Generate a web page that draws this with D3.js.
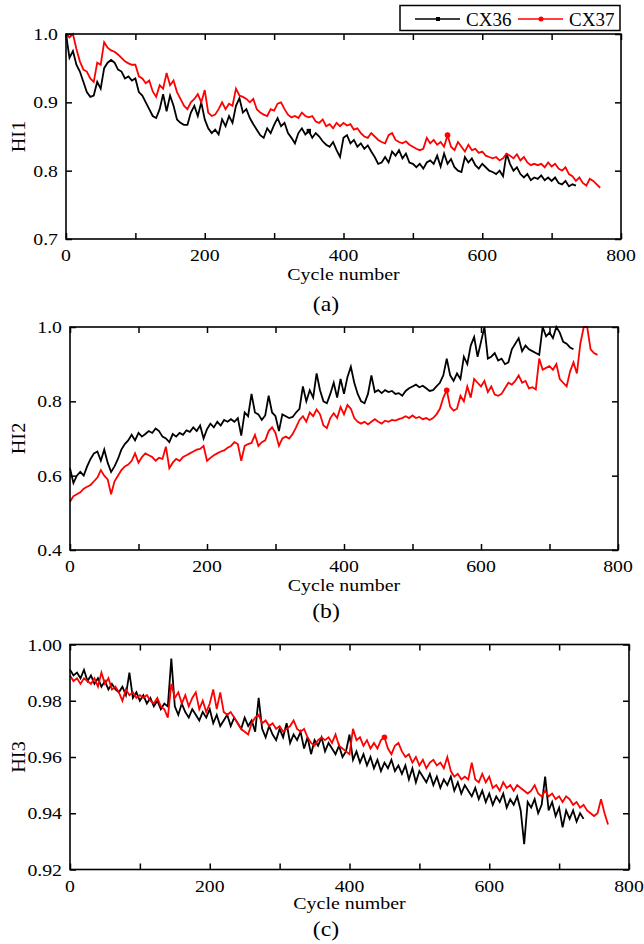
<!DOCTYPE html>
<html>
<head>
<meta charset="utf-8">
<script src="https://cdn.jsdelivr.net/npm/d3@7/dist/d3.min.js"></script>
<style>
  html, body { margin: 0; padding: 0; background: #fff; }
  svg { display: block; }
  text { font-family: "Liberation Serif", "Times New Roman", serif; fill: #000; }
</style>
</head>
<body>
<svg id="chart" width="644" height="944"></svg>
<script>
// ---------------- DATA ----------------
const cycleStep = 5;            // values below are sampled every 5 cycles starting at cycle 0
const seriesNames = ["CX36", "CX37"];
const seriesColors = ["#000000", "#ff0000"];
const xTickLabels = [0, 200, 400, 600, 800];

// HI1
const hi1_CX36 = [1.0,0.965,0.975,0.955,0.945,0.93,0.915,0.908,0.91,0.93,0.92,0.95,0.958,0.962,0.958,0.948,0.945,0.935,0.938,0.932,
0.935,0.915,0.91,0.9,0.89,0.88,0.877,0.89,0.912,0.887,0.91,0.895,0.875,0.87,0.867,0.867,0.885,0.895,0.88,0.9,
0.875,0.862,0.855,0.86,0.853,0.875,0.865,0.88,0.87,0.895,0.906,0.885,0.89,0.877,0.868,0.86,0.852,0.848,0.862,0.855,
0.867,0.877,0.865,0.87,0.855,0.848,0.84,0.855,0.862,0.853,0.858,0.848,0.855,0.85,0.843,0.838,0.835,0.842,0.83,0.82,
0.848,0.852,0.84,0.845,0.835,0.84,0.832,0.837,0.828,0.82,0.81,0.812,0.82,0.812,0.828,0.822,0.83,0.818,0.825,0.812,
0.81,0.805,0.81,0.803,0.812,0.815,0.81,0.822,0.806,0.825,0.81,0.817,0.805,0.8,0.798,0.82,0.812,0.818,0.808,0.803,
0.81,0.805,0.8,0.798,0.795,0.8,0.792,0.825,0.81,0.8,0.805,0.795,0.79,0.795,0.786,0.79,0.788,0.793,0.786,0.79,
0.785,0.79,0.782,0.78,0.785,0.777,0.78,0.778];
const hi1_CX37 = [1.0,0.995,1.0,0.978,0.96,0.948,0.945,0.935,0.93,0.958,0.955,0.988,0.98,0.976,0.974,0.97,0.965,0.96,0.957,0.955,
0.955,0.938,0.935,0.928,0.932,0.916,0.908,0.925,0.92,0.943,0.925,0.932,0.915,0.905,0.895,0.89,0.9,0.905,0.912,0.9,
0.918,0.885,0.88,0.882,0.89,0.9,0.89,0.898,0.895,0.92,0.91,0.908,0.905,0.9,0.905,0.89,0.885,0.882,0.88,0.89,
0.888,0.898,0.9,0.89,0.882,0.878,0.88,0.877,0.885,0.88,0.878,0.88,0.872,0.87,0.875,0.865,0.868,0.862,0.87,0.865,
0.87,0.866,0.868,0.86,0.862,0.855,0.85,0.848,0.855,0.85,0.845,0.842,0.84,0.852,0.855,0.845,0.842,0.84,0.843,0.838,
0.835,0.832,0.83,0.832,0.848,0.84,0.845,0.838,0.842,0.835,0.852,0.835,0.83,0.842,0.835,0.828,0.838,0.83,0.832,0.826,
0.828,0.822,0.82,0.818,0.82,0.815,0.818,0.825,0.822,0.818,0.824,0.815,0.82,0.812,0.808,0.81,0.808,0.81,0.805,0.812,
0.806,0.81,0.803,0.8,0.805,0.795,0.792,0.785,0.79,0.782,0.778,0.788,0.785,0.78,0.775];

// HI2
const hi2_CX36 = [0.62,0.58,0.6,0.61,0.6,0.625,0.645,0.66,0.665,0.64,0.67,0.635,0.61,0.625,0.645,0.67,0.685,0.695,0.71,0.695,
0.715,0.705,0.712,0.72,0.715,0.727,0.72,0.705,0.7,0.69,0.712,0.705,0.715,0.71,0.722,0.718,0.73,0.72,0.735,0.7,
0.725,0.74,0.73,0.745,0.735,0.75,0.745,0.752,0.745,0.755,0.708,0.77,0.76,0.82,0.77,0.765,0.75,0.762,0.815,0.77,
0.76,0.72,0.765,0.76,0.755,0.758,0.77,0.78,0.84,0.8,0.83,0.81,0.875,0.83,0.8,0.795,0.82,0.85,0.81,0.86,
0.82,0.865,0.893,0.85,0.82,0.8,0.795,0.82,0.87,0.825,0.83,0.822,0.83,0.825,0.828,0.82,0.822,0.815,0.828,0.835,
0.84,0.845,0.838,0.842,0.835,0.828,0.83,0.84,0.85,0.87,0.915,0.87,0.855,0.875,0.86,0.92,0.9,0.95,0.973,0.92,
0.96,1.0,0.915,0.92,0.93,0.91,0.915,0.9,0.905,0.94,0.955,0.97,0.935,0.95,0.94,0.935,0.93,0.925,1.0,0.975,
0.985,0.97,1.0,0.985,0.96,0.955,0.945,0.94];
const hi2_CX37 = [0.53,0.545,0.55,0.555,0.565,0.57,0.575,0.585,0.595,0.615,0.6,0.59,0.55,0.585,0.6,0.615,0.625,0.63,0.64,0.66,
0.635,0.65,0.66,0.655,0.65,0.64,0.648,0.645,0.678,0.62,0.635,0.645,0.64,0.65,0.655,0.66,0.665,0.67,0.672,0.68,
0.64,0.648,0.655,0.66,0.665,0.668,0.675,0.68,0.69,0.685,0.64,0.68,0.685,0.688,0.71,0.68,0.69,0.695,0.72,0.73,
0.715,0.68,0.7,0.705,0.7,0.712,0.73,0.75,0.76,0.745,0.77,0.76,0.778,0.765,0.735,0.728,0.755,0.768,0.755,0.785,
0.765,0.79,0.78,0.755,0.745,0.74,0.745,0.738,0.745,0.752,0.745,0.74,0.748,0.745,0.75,0.748,0.752,0.755,0.76,0.755,
0.762,0.755,0.758,0.752,0.755,0.75,0.755,0.765,0.78,0.81,0.83,0.785,0.775,0.78,0.815,0.8,0.84,0.81,0.86,0.85,
0.84,0.855,0.825,0.84,0.818,0.815,0.82,0.835,0.85,0.845,0.855,0.87,0.85,0.855,0.835,0.838,0.832,0.915,0.885,0.89,
0.895,0.885,0.9,0.86,0.85,0.84,0.88,0.905,0.875,0.955,1.0,1.0,0.94,0.93,0.925];

// HI3
const hi3_CX36 = [0.991,0.989,0.990,0.988,0.991,0.987,0.989,0.986,0.988,0.985,0.987,0.984,0.986,0.984,0.983,0.985,0.982,0.990,0.981,0.983,
0.980,0.982,0.979,0.981,0.978,0.980,0.977,0.979,0.978,0.995,0.978,0.975,0.979,0.976,0.974,0.977,0.975,0.973,0.976,0.974,
0.977,0.972,0.975,0.971,0.973,0.975,0.971,0.974,0.972,0.970,0.974,0.971,0.973,0.969,0.981,0.970,0.967,0.971,0.968,0.966,
0.970,0.967,0.972,0.965,0.968,0.966,0.969,0.963,0.967,0.961,0.966,0.964,0.967,0.962,0.965,0.963,0.961,0.964,0.960,0.962,
0.968,0.959,0.962,0.958,0.961,0.957,0.960,0.956,0.959,0.955,0.958,0.956,0.959,0.955,0.957,0.954,0.957,0.952,0.956,0.951,
0.955,0.953,0.951,0.954,0.950,0.953,0.949,0.952,0.950,0.953,0.948,0.951,0.947,0.950,0.948,0.946,0.949,0.945,0.948,0.944,
0.947,0.943,0.946,0.944,0.947,0.942,0.945,0.943,0.946,0.941,0.929,0.944,0.942,0.945,0.940,0.943,0.953,0.941,0.944,0.939,
0.942,0.935,0.941,0.938,0.941,0.937,0.940,0.938];
const hi3_CX37 = [0.989,0.987,0.988,0.986,0.988,0.987,0.986,0.988,0.985,0.990,0.986,0.988,0.984,0.985,0.983,0.980,0.984,0.982,0.983,0.981,
0.982,0.981,0.982,0.980,0.979,0.981,0.978,0.977,0.974,0.986,0.981,0.983,0.979,0.982,0.978,0.981,0.983,0.977,0.980,0.976,
0.979,0.984,0.977,0.983,0.976,0.975,0.976,0.974,0.972,0.970,0.969,0.968,0.972,0.974,0.975,0.972,0.973,0.971,0.972,0.970,
0.971,0.969,0.970,0.971,0.973,0.970,0.969,0.970,0.967,0.965,0.964,0.966,0.967,0.966,0.967,0.965,0.968,0.964,0.963,0.962,
0.961,0.970,0.966,0.967,0.964,0.966,0.963,0.965,0.963,0.966,0.967,0.963,0.961,0.964,0.965,0.962,0.960,0.961,0.958,0.960,
0.957,0.959,0.956,0.958,0.959,0.957,0.958,0.956,0.960,0.955,0.953,0.954,0.952,0.953,0.952,0.958,0.952,0.951,0.954,0.951,
0.953,0.949,0.950,0.948,0.951,0.949,0.950,0.948,0.950,0.949,0.948,0.947,0.948,0.950,0.947,0.946,0.948,0.946,0.947,0.945,
0.946,0.944,0.946,0.945,0.943,0.944,0.942,0.943,0.941,0.940,0.939,0.940,0.945,0.940,0.936];

// marker positions (cycle numbers) where the series symbol is drawn
const markerCycles = { a: [350, 550], b: [null, 550], c: [null, 450] };

// ---------------- DRAW ----------------
const svg = d3.select("#chart");
const FS = 17.5, SX = 1.13;   // label font size and horizontal stretch of the original figure text

function stretchedText(sel, x, y, txt, opts = {}) {
  const fs = opts.fs || FS, sx = opts.sx || SX, rot = opts.rot || 0;
  return sel.append("text")
    .attr("transform", `translate(${x},${y}) rotate(${rot}) scale(${sx},1)`)
    .attr("text-anchor", opts.anchor || "middle")
    .attr("dominant-baseline", opts.baseline || "auto")
    .attr("font-size", fs)
    .text(txt);
}

const panels = [
  { key: "a", title: "HI1", caption: "(a)", series: [hi1_CX36, hi1_CX37], yDomain: [0.7, 1.0],
    yTicks: [0.7, 0.8, 0.9, 1.0], yFmt: d3.format(".1f"),
    x0: 66, x1: 621, y0: 34, y1: 239, xLabY: 261, xTitleY: 280, capY: 311 },
  { key: "b", title: "HI2", caption: "(b)", series: [hi2_CX36, hi2_CX37], yDomain: [0.4, 1.0],
    yTicks: [0.4, 0.6, 0.8, 1.0], yFmt: d3.format(".1f"),
    x0: 70, x1: 618, y0: 327, y1: 550, xLabY: 572, xTitleY: 591, capY: 618 },
  { key: "c", title: "HI3", caption: "(c)", series: [hi3_CX36, hi3_CX37], yDomain: [0.92, 1.00],
    yTicks: [0.92, 0.94, 0.96, 0.98, 1.00], yFmt: d3.format(".2f"),
    x0: 70, x1: 629, y0: 644.5, y1: 869.5, xLabY: 892, xTitleY: 908.5, capY: 936 }
];

const xTicks = [0, 100, 200, 300, 400, 500, 600, 700, 800];
const tickLen = 6;

panels.forEach(p => {
  const x = d3.scaleLinear().domain([0, 800]).range([p.x0, p.x1]);
  const y = d3.scaleLinear().domain(p.yDomain).range([p.y1, p.y0]);
  const g = svg.append("g");

  // data lines
  const line = d3.line().x((d, i) => x(i * cycleStep)).y(d => y(d));
  p.series.forEach((s, si) => {
    g.append("path").datum(s)
      .attr("d", line)
      .attr("fill", "none")
      .attr("stroke", seriesColors[si])
      .attr("stroke-width", 1.8)
      .attr("stroke-linejoin", "miter");
    const mc = markerCycles[p.key][si];
    if (mc != null) {
      const v = s[Math.round(mc / cycleStep)];
      if (si === 0) {
        g.append("rect").attr("x", x(mc) - 2.2).attr("y", y(v) - 2.2).attr("width", 4.4).attr("height", 4.4).attr("fill", seriesColors[si]);
      } else {
        g.append("circle").attr("cx", x(mc)).attr("cy", y(v)).attr("r", 2.8).attr("fill", seriesColors[si]);
      }
    }
  });

  // axes (inward ticks on all four sides)
  const axB = d3.axisBottom(x).tickValues(xTicks).tickSizeInner(-tickLen).tickSizeOuter(0).tickFormat("");
  const axT = d3.axisTop(x).tickValues(xTicks).tickSizeInner(-tickLen).tickSizeOuter(0).tickFormat("");
  const axL = d3.axisLeft(y).tickValues(p.yTicks).tickSizeInner(-tickLen).tickSizeOuter(0).tickFormat("");
  const axR = d3.axisRight(y).tickValues(p.yTicks).tickSizeInner(-tickLen).tickSizeOuter(0).tickFormat("");
  [[axB, `translate(0,${p.y1})`], [axT, `translate(0,${p.y0})`], [axL, `translate(${p.x0},0)`], [axR, `translate(${p.x1},0)`]]
    .forEach(([ax, tr]) => {
      const a = g.append("g").attr("transform", tr).call(ax);
      a.select(".domain").remove();
      a.selectAll("line").attr("stroke", "#000").attr("stroke-width", 1.5);
    });

  // frame
  g.append("rect").attr("x", p.x0).attr("y", p.y0)
    .attr("width", p.x1 - p.x0).attr("height", p.y1 - p.y0)
    .attr("fill", "none").attr("stroke", "#000").attr("stroke-width", 1.6);

  // tick labels
  xTickLabels.forEach(d => stretchedText(g, x(d), p.xLabY, d));
  p.yTicks.forEach(d => stretchedText(g, p.x0 - 8, y(d), p.yFmt(d), { anchor: "end", baseline: "central" }));

  // titles
  stretchedText(g, (p.x0 + p.x1) / 2, p.xTitleY, "Cycle number", { sx: 1.14 });
  stretchedText(g, 25, (p.y0 + p.y1) / 2, p.title, { rot: -90, fs: 18 });
  stretchedText(g, 326, p.capY, p.caption, { fs: 22, sx: 1.08 });
});

// legend
const lg = svg.append("g");
lg.append("rect").attr("x", 400).attr("y", 5.5).attr("width", 220).attr("height", 25)
  .attr("fill", "#fff").attr("stroke", "#000").attr("stroke-width", 1.5);
const legendItems = [{ lx: 415, tx: 466 }, { lx: 518, tx: 569 }];
legendItems.forEach((it, i) => {
  lg.append("line").attr("x1", it.lx).attr("x2", it.lx + 45).attr("y1", 19).attr("y2", 19)
    .attr("stroke", seriesColors[i]).attr("stroke-width", 1.6);
  if (i === 0) lg.append("rect").attr("x", it.lx + 21).attr("y", 17).attr("width", 4).attr("height", 4).attr("fill", seriesColors[i]);
  else lg.append("circle").attr("cx", it.lx + 23).attr("cy", 19).attr("r", 2.5).attr("fill", seriesColors[i]);
  lg.append("text").attr("x", it.tx).attr("y", 26).attr("font-size", 19).text(seriesNames[i]);
});
</script>
</body>
</html>
